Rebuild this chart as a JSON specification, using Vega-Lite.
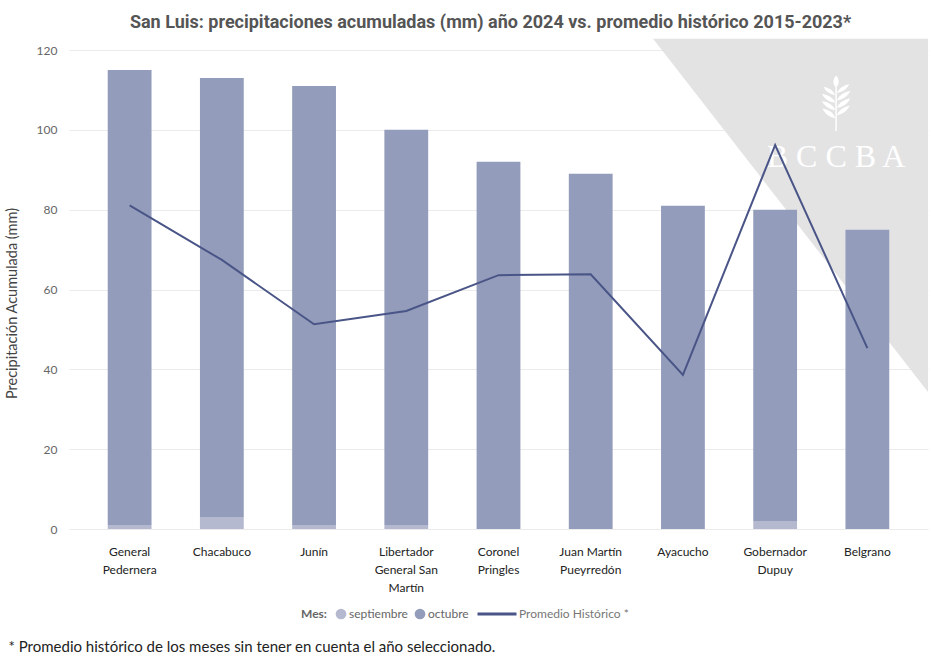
{
  "$schema": "https://vega.github.io/schema/vega-lite/v6.json",
  "width": 859,
  "height": 479,
  "autosize": {"type": "none"},
  "padding": {"left": 69, "top": 50, "right": 11, "bottom": 132},
  "background": "white",
  "title": {
    "text": "San Luis: precipitaciones acumuladas (mm) año 2024 vs. promedio histórico 2015-2023*",
    "anchor": "middle",
    "dx": -8,
    "offset": 7,
    "font": "Roboto",
    "fontSize": 18,
    "fontWeight": "bold",
    "color": "#555555"
  },
  "datasets": {
    "barras": [
      {"depto": "General Pedernera", "Mes": "septiembre", "mm": 1, "orden": 1},
      {"depto": "General Pedernera", "Mes": "octubre", "mm": 114, "orden": 2},
      {"depto": "Chacabuco", "Mes": "septiembre", "mm": 3, "orden": 1},
      {"depto": "Chacabuco", "Mes": "octubre", "mm": 110, "orden": 2},
      {"depto": "Junín", "Mes": "septiembre", "mm": 1, "orden": 1},
      {"depto": "Junín", "Mes": "octubre", "mm": 110, "orden": 2},
      {"depto": "Libertador General San Martín", "Mes": "septiembre", "mm": 1, "orden": 1},
      {"depto": "Libertador General San Martín", "Mes": "octubre", "mm": 99, "orden": 2},
      {"depto": "Coronel Pringles", "Mes": "septiembre", "mm": 0, "orden": 1},
      {"depto": "Coronel Pringles", "Mes": "octubre", "mm": 92, "orden": 2},
      {"depto": "Juan Martín Pueyrredón", "Mes": "septiembre", "mm": 0, "orden": 1},
      {"depto": "Juan Martín Pueyrredón", "Mes": "octubre", "mm": 89, "orden": 2},
      {"depto": "Ayacucho", "Mes": "septiembre", "mm": 0, "orden": 1},
      {"depto": "Ayacucho", "Mes": "octubre", "mm": 81, "orden": 2},
      {"depto": "Gobernador Dupuy", "Mes": "septiembre", "mm": 2, "orden": 1},
      {"depto": "Gobernador Dupuy", "Mes": "octubre", "mm": 78, "orden": 2},
      {"depto": "Belgrano", "Mes": "septiembre", "mm": 0, "orden": 1},
      {"depto": "Belgrano", "Mes": "octubre", "mm": 75, "orden": 2}
    ],
    "promedio": [
      {"depto": "General Pedernera", "promedio": 81.1, "serie": "Promedio Histórico *"},
      {"depto": "Chacabuco", "promedio": 67.4, "serie": "Promedio Histórico *"},
      {"depto": "Junín", "promedio": 51.3, "serie": "Promedio Histórico *"},
      {"depto": "Libertador General San Martín", "promedio": 54.6, "serie": "Promedio Histórico *"},
      {"depto": "Coronel Pringles", "promedio": 63.6, "serie": "Promedio Histórico *"},
      {"depto": "Juan Martín Pueyrredón", "promedio": 63.8, "serie": "Promedio Histórico *"},
      {"depto": "Ayacucho", "promedio": 38.6, "serie": "Promedio Histórico *"},
      {"depto": "Gobernador Dupuy", "promedio": 96.2, "serie": "Promedio Histórico *"},
      {"depto": "Belgrano", "promedio": 45.3, "serie": "Promedio Histórico *"}
    ],
    "triangulo": [
      {"wx": 0.68, "top": 122.8, "bot": 122.8},
      {"wx": 1.0, "top": 122.8, "bot": 34.3}
    ],
    "logo": [
      {"wx": 0.893, "ty": 90.7, "iy": 106.5, "txt": "B C C B A"}
    ]
  },
  "config": {
    "view": {"stroke": null},
    "font": "Lato",
    "axisY": {
      "grid": true,
      "gridColor": "#ebebeb",
      "gridWidth": 1,
      "domain": false,
      "ticks": false,
      "labelColor": "#666666",
      "labelFontSize": 12,
      "labelPadding": 12,
      "titleFontSize": 14.5,
      "titleFontWeight": "normal",
      "titleColor": "#444444",
      "titlePadding": 17,
      "titleY": 253
    },
    "axisX": {
      "grid": false,
      "domain": false,
      "ticks": false,
      "labelAngle": 0,
      "labelColor": "#222222",
      "labelFontSize": 12,
      "labelPadding": 17,
      "labelLineHeight": 18,
      "labelExpr": "datum.value == 'General Pedernera' ? ['General','Pedernera'] : datum.value == 'Libertador General San Martín' ? ['Libertador','General San','Martín'] : datum.value == 'Coronel Pringles' ? ['Coronel','Pringles'] : datum.value == 'Juan Martín Pueyrredón' ? ['Juan Martín','Pueyrredón'] : datum.value == 'Gobernador Dupuy' ? ['Gobernador','Dupuy'] : datum.label",
      "titleAnchor": "start",
      "titleAlign": "left",
      "titleBaseline": "alphabetic",
      "titleX": -61,
      "titleY": 122,
      "titleFontSize": 15,
      "titleFontWeight": "normal",
      "titleColor": "#222222"
    }
  },
  "layer": [
    {
      "encoding": {
        "x": {"field": "wx", "type": "quantitative", "scale": {"domain": [0, 1], "nice": false, "zero": false}, "axis": null}
      },
      "layer": [
        {
          "data": {"name": "triangulo"},
          "mark": {"type": "area", "color": "#e4e3e4", "opacity": 1},
          "encoding": {
            "y": {"field": "top", "type": "quantitative", "scale": {"domain": [0, 120], "nice": false}, "axis": {"title": "Precipitación Acumulada (mm)", "values": [0, 20, 40, 60, 80, 100, 120]}},
            "y2": {"field": "bot"}
          }
        },
        {
          "data": {"name": "logo"},
          "mark": {"type": "text", "font": "Liberation Serif", "fontSize": 32, "color": "white", "baseline": "alphabetic", "align": "center"},
          "encoding": {
            "y": {"field": "ty", "type": "quantitative", "scale": {"domain": [0, 120], "nice": false}, "axis": {"title": "Precipitación Acumulada (mm)", "values": [0, 20, 40, 60, 80, 100, 120]}},
            "text": {"field": "txt"}
          }
        },
        {
          "data": {"name": "logo"},
          "mark": {
            "type": "point",
            "filled": true,
            "color": "white",
            "opacity": 1,
            "size": 3249,
            "shape": "M0,-1 C0.13,-0.85 0.12,-0.68 0,-0.58 C-0.12,-0.68 -0.13,-0.85 0,-1 Z M-0.025,-0.6 L0.025,-0.6 L0.025,0.95 L-0.025,0.95 Z M0.03,-0.38 Q0.12,-0.62 0.46,-0.7 Q0.36,-0.45 0.03,-0.38 Z M0.03,-0.12 Q0.12,-0.38 0.5,-0.45 Q0.38,-0.18 0.03,-0.12 Z M0.03,0.14 Q0.12,-0.12 0.5,-0.2 Q0.38,0.08 0.03,0.14 Z M0.03,0.4 Q0.12,0.14 0.48,0.06 Q0.36,0.34 0.03,0.4 Z M-0.03,-0.3 Q-0.12,-0.54 -0.44,-0.6 Q-0.34,-0.36 -0.03,-0.3 Z M-0.03,-0.04 Q-0.12,-0.3 -0.5,-0.36 Q-0.38,-0.1 -0.03,-0.04 Z M-0.03,0.22 Q-0.12,-0.04 -0.5,-0.1 Q-0.38,0.16 -0.03,0.22 Z M-0.03,0.5 Q-0.12,0.22 -0.48,0.16 Q-0.36,0.44 -0.03,0.5 Z"
          },
          "encoding": {
            "y": {"field": "iy", "type": "quantitative", "scale": {"domain": [0, 120], "nice": false}, "axis": {"title": "Precipitación Acumulada (mm)", "values": [0, 20, 40, 60, 80, 100, 120]}}
          }
        }
      ]
    },
    {
      "layer": [
        {
          "data": {"name": "barras"},
          "mark": {"type": "bar"},
          "encoding": {
            "x": {
              "field": "depto", "type": "nominal", "title": "* Promedio histórico de los meses sin tener en cuenta el año seleccionado.",
              "scale": {"domain": ["General Pedernera", "Chacabuco", "Junín", "Libertador General San Martín", "Coronel Pringles", "Juan Martín Pueyrredón", "Ayacucho", "Gobernador Dupuy", "Belgrano"], "paddingInner": 0.525, "paddingOuter": 0.42}
            },
            "y": {"field": "mm", "type": "quantitative", "stack": "zero", "scale": {"domain": [0, 120], "nice": false}, "axis": {"title": "Precipitación Acumulada (mm)", "values": [0, 20, 40, 60, 80, 100, 120]}},
            "color": {
              "field": "Mes", "type": "nominal",
              "scale": {"domain": ["septiembre", "octubre"], "range": ["#b4b9d0", "#939cba"]},
              "legend": {
                "orient": "none", "legendX": 232, "legendY": 558, "direction": "horizontal",
                "title": "Mes:", "titleOrient": "left", "titleFontWeight": "bold", "titleFontSize": 12, "titleColor": "#666666", "titlePadding": 8,
                "labelFontSize": 12, "labelColor": "#666666", "labelOffset": 2, "columnPadding": 6,
                "symbolType": "circle", "symbolSize": 115, "symbolStrokeWidth": 0
              }
            },
            "order": {"field": "orden", "type": "quantitative"}
          }
        },
        {
          "data": {"name": "promedio"},
          "mark": {"type": "line", "strokeWidth": 2},
          "encoding": {
            "x": {
              "field": "depto", "type": "nominal", "title": "* Promedio histórico de los meses sin tener en cuenta el año seleccionado.",
              "scale": {"domain": ["General Pedernera", "Chacabuco", "Junín", "Libertador General San Martín", "Coronel Pringles", "Juan Martín Pueyrredón", "Ayacucho", "Gobernador Dupuy", "Belgrano"], "paddingInner": 0.525, "paddingOuter": 0.42}
            },
            "y": {"field": "promedio", "type": "quantitative", "scale": {"domain": [0, 120], "nice": false}, "axis": {"title": "Precipitación Acumulada (mm)", "values": [0, 20, 40, 60, 80, 100, 120]}},
            "stroke": {
              "field": "serie", "type": "nominal",
              "scale": {"range": ["#4a5587"]},
              "legend": {
                "orient": "none", "legendX": 407, "legendY": 543, "direction": "horizontal",
                "title": null, "labelFontSize": 12, "labelColor": "#777777", "labelOffset": 1,
                "symbolType": "stroke", "symbolSize": 1521, "symbolStrokeWidth": 3
              }
            }
          }
        }
      ]
    }
  ],
  "resolve": {"scale": {"x": "independent"}}
}
